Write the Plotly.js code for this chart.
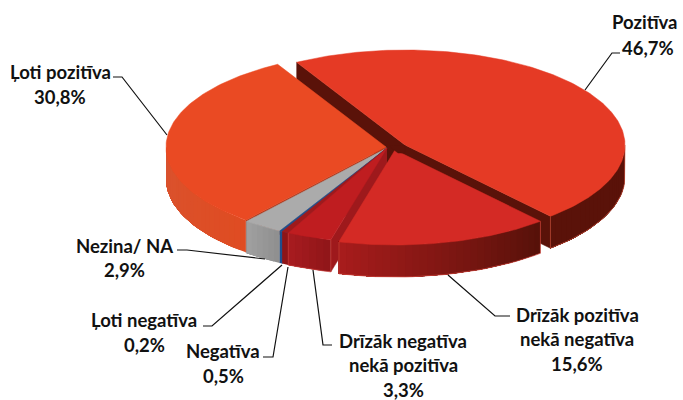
<!DOCTYPE html>
<html><head><meta charset="utf-8">
<script src="https://cdn.plot.ly/plotly-3.0.1.min.js"></script>
<style>html,body{margin:0;padding:0;background:#fff}#c{width:683px;height:400px}</style></head>
<body><div id="c"></div>
<script>
// ---- data ----
const categories = ["Pozitīva","Drīzāk pozitīva nekā negatīva","Drīzāk negatīva nekā pozitīva","Negatīva","Ļoti negatīva","Nezina/ NA","Ļoti pozitīva"];
const values = [46.7,15.6,3.3,0.5,0.2,2.9,30.8];
const labelLines = [["Pozitīva"],["Drīzāk pozitīva","nekā negatīva"],["Drīzāk negatīva","nekā pozitīva"],["Negatīva"],["Ļoti negatīva"],["Nezina/ NA"],["Ļoti pozitīva"]];
// ---- style ----
const topColors  = ["#E53A25","#D42A25","#BF1D20","#9E1A1C","#1F4E8C","#ABABAB","#EA4A23"];
const wallLeft   = ["#5A1209","#A81C1C","#A81C20","#8E1518","#1F4E8C","#A0A0A0","#D9532F"];
const wallRight  = ["#5A1209","#561109","#8F1518","#8E1518","#1F4E8C","#8F8F8F","#DF4C22"];
const faceColors = ["#5A1209","#7A150F","#9E191C","#8E1518","#1F4E8C","#8F8F8F","#AD361A"];
const rimColors  = ["#C9503C","#D0453C","#C8403C",null,null,null,null];
// ---- geometry of the tilted pie ----
const centers = [[405,145],[395,150],[387,148],[387,148],[387,148],[387,148],[386,147]];
const RX = 220, RY = 95, DEPTH = 32, START = -119.5;
const drawOrder = [0,6,5,4,3,2,1];
const labelCenters = [[[645,22],[648,48]],[[577,315],[577,339],[577,364]],[[403,341],[403,365],[403,390]],[[223,351],[223,376]],[[144,320],[144,345]],[[124,246],[124,270]],[[60,72],[60,97]]];
const leaders = [
 [[585,90],[612,53],[620,53]],
 [[448,275],[495,316],[510,316]],
 [[313,270],[323,345],[332,345]],
 [[288,267],[273,357],[263,357]],
 [[282,265],[212,326],[203,326]],
 [[265,259],[187,250],[177,250]],
 [[167,135],[122,77],[113,77]]
];
const rad = d => d*Math.PI/180;
const total = values.reduce((a,b)=>a+b,0);
let acc = START;
const spans = values.map(v=>{const a=acc; acc += v/total*360; return [a,acc];});
const hex = h => [1,3,5].map(i=>parseInt(h.substr(i,2),16));
const mix = (a,b,t)=>{const A=hex(a),B=hex(b);return 'rgb('+A.map((c,i)=>Math.round(c+(B[i]-c)*t)).join(',')+')';};
const traces = [];
function poly(xs,ys,color,lw){
  traces.push({type:'scatter',mode:'lines',x:xs,y:ys,fill:'toself',fillcolor:color,
    line:{color:color,width:lw===undefined?0.5:lw},hoverinfo:'skip',showlegend:false});
}
function stroke(xs,ys,color,w){
  traces.push({type:'scatter',mode:'lines',x:xs,y:ys,line:{color:color,width:w},hoverinfo:'skip',showlegend:false});
}
drawOrder.forEach(i=>{
  const [a,b]=spans[i],[cx,cy]=centers[i];
  const px=t=>cx+RX*Math.cos(rad(t)), py=t=>cy+RY*Math.sin(rad(t));
  // radial faces
  if(Math.sin(rad(a-90))>0) poly([cx,px(a),px(a),cx],[cy,py(a),py(a)+DEPTH,cy+DEPTH],faceColors[i]);
  if(Math.cos(rad(b))>0)   poly([cx,px(b),px(b),cx],[cy,py(b),py(b)+DEPTH,cy+DEPTH],faceColors[i]);
  // outer wall, front half only: each strip reaches to the far end so no seam shows
  const lo=Math.max(a,0), hi=Math.min(b,180);
  if(hi>lo){
    const n=Math.max(1,Math.ceil((hi-lo)/2));
    for(let k=0;k<n;k++){
      const c=mix(wallRight[i],wallLeft[i],(k+0.5)/n);
      const xs=[],ys=[],xb=[],yb=[];
      for(let j=k;j<=n;j++){const t=lo+(hi-lo)*j/n;xs.push(px(t));ys.push(py(t));xb.unshift(px(t));yb.unshift(py(t)+DEPTH);}
      poly(xs.concat(xb),ys.concat(yb),c,0);
    }
    if(rimColors[i]){
      const xs=[],ys=[];
      for(let j=0;j<=n;j++){const t=lo+(hi-lo)*j/n;xs.push(px(t));ys.push(py(t)+DEPTH);}
      stroke([px(lo)].concat(xs,[px(hi)]),[py(lo)].concat(ys,[py(hi)]),rimColors[i],0.7);
    }
  }
  // top surface
  const xs=[cx],ys=[cy];
  const n=Math.max(2,Math.ceil(b-a));
  for(let k=0;k<=n;k++){const t=a+(b-a)*k/n;xs.push(px(t));ys.push(py(t));}
  xs.push(cx);ys.push(cy);
  poly(xs,ys,topColors[i]);
});
// dark hub where the largest slice's side shows over the tips of the others
{
  const c0=centers[0],c1=centers[1],c6=centers[6];
  poly([c0[0],c0[0],c1[0]+3,c6[0]+3],[c0[1],c0[1]+8,c1[1]+3,c6[1]-1],faceColors[0]);
}
// leader lines
leaders.forEach(p=>stroke(p.map(q=>q[0]),p.map(q=>q[1]),'#111',1.2));
// labels
const annotations=[];
const fnt={family:'Lato, "Open Sans", sans-serif',size:18.5,color:'#111'};
values.forEach((v,i)=>{
  const lines=labelLines[i].concat([v.toFixed(1).replace('.',',')+'%']);
  lines.forEach((s,j)=>annotations.push({x:labelCenters[i][j][0],y:labelCenters[i][j][1],xref:'x',yref:'y',
    text:'<b>'+s+'</b>',showarrow:false,xanchor:'center',yanchor:'middle',font:fnt}));
});
Plotly.newPlot('c',traces,{
  width:683,height:400,margin:{l:0,r:0,t:0,b:0},paper_bgcolor:'#fff',plot_bgcolor:'#fff',showlegend:false,
  xaxis:{range:[0,683],visible:false,fixedrange:true},
  yaxis:{range:[400,0],visible:false,fixedrange:true},
  annotations:annotations
},{displayModeBar:false,staticPlot:true});
</script></body></html>
